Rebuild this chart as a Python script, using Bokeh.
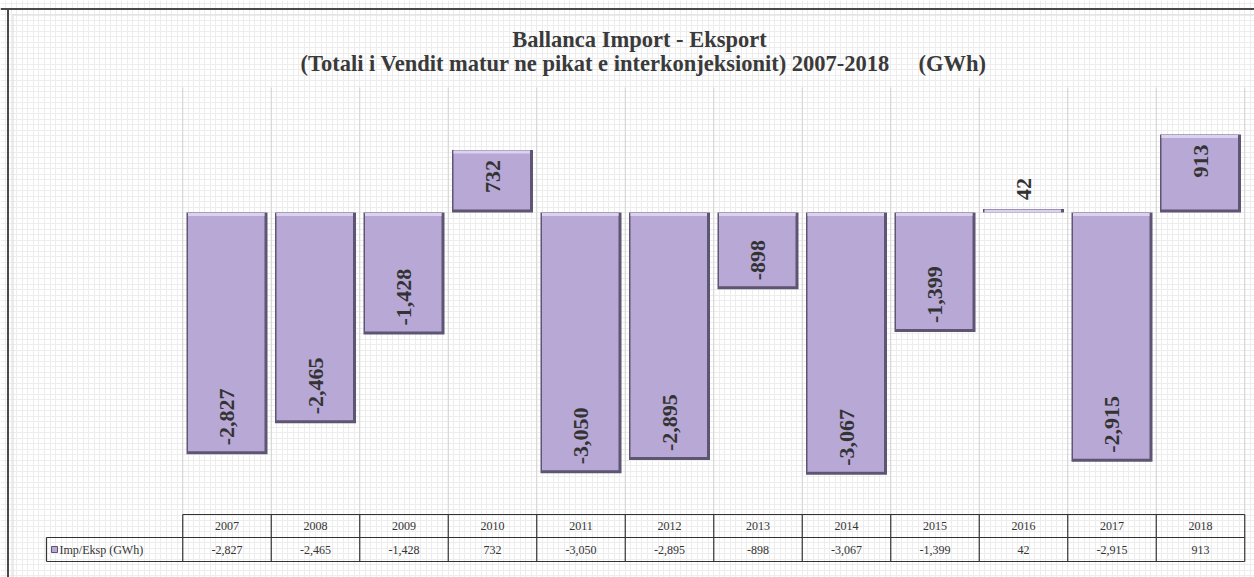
import numpy as np
from bokeh.plotting import figure
from bokeh.models import Range1d, Grid, SingleIntervalTicker, Label, ColumnDataSource
from bokeh.core.properties import value
from bokeh.embed import file_html
from bokeh.resources import INLINE

# ---------------- data ----------------
years = ["2007", "2008", "2009", "2010", "2011", "2012",
         "2013", "2014", "2015", "2016", "2017", "2018"]
imp_eksp = [-2827, -2465, -1428, 732, -3050, -2895,
            -898, -3067, -1399, 42, -2915, 913]
series_name = "Imp/Eksp (GWh)"
title_line1 = "Ballanca Import - Eksport"
title_line2 = "(Totali i Vendit matur ne pikat e interkonjeksionit) 2007-2018"
title_unit = "(GWh)"

# ---------------- layout (page pixels -> data) ----------------
W, H = 1254, 577
OFF = 0
PX0, PXS = 226.5, 88.5      # page x of first category centre, px per category
PY0, PYS = 212.0, 0.0855    # page y of zero line, px per GWh


def X(px):
    return (px - PX0) / PXS


def Y(py):
    return (PY0 - py) / PYS


DX = 1.0 / PXS
DY = 1.0 / PYS

p = figure(width=W, height=H, x_range=Range1d(X(OFF), X(OFF + W)),
           y_range=Range1d(Y(OFF + H), Y(OFF)),
           x_axis_location=None, y_axis_location=None,
           toolbar_location=None, output_backend="svg", min_border=0)
p.outline_line_color = None
p.grid.visible = False
p.background_fill_color = "white"
p.border_fill_color = "white"

# fine graph-paper grid
p.add_layout(Grid(dimension=0, ticker=SingleIntervalTicker(interval=1 / 16, num_minor_ticks=0),
                  grid_line_color="#ededed", grid_line_width=1))
p.add_layout(Grid(dimension=1, ticker=SingleIntervalTicker(interval=5.5 * DY, num_minor_ticks=0),
                  grid_line_color="#ededed", grid_line_width=1))

# frame lines
p.segment(x0=[X(7.5)], y0=[Y(8)], x1=[X(7.5)], y1=[Y(OFF + H)], line_color="#4a4a4a", line_width=2)
p.segment(x0=[X(0)], y0=[Y(8.5)], x1=[X(OFF + W)], y1=[Y(8.5)], line_color="#4a4a4a", line_width=2)
p.segment(x0=[X(12.5)], y0=[Y(14)], x1=[X(12.5)], y1=[Y(OFF + H)], line_color="#dadada", line_width=1)
p.segment(x0=[X(12)], y0=[Y(14.5)], x1=[X(OFF + W)], y1=[Y(14.5)], line_color="#dadada", line_width=1)

n = len(years)
idx = np.arange(n)
vals = np.array(imp_eksp, dtype=float)

# category separators
bx = np.arange(n + 1) - 0.5
p.segment(x0=bx, y0=[Y(87)] * (n + 1), x1=bx, y1=[Y(514)] * (n + 1),
          line_color="#d2d2d2", line_width=1)

# bars with bevel look
bw = 81 / PXS
left = idx - bw / 2
right = idx + bw / 2
top = np.maximum(vals, 0)
bottom = np.minimum(vals, 0)
src = ColumnDataSource(dict(
    left=left, right=right, top=top, bottom=bottom,
    mleft=left + 1.5 * DX, mright=right - 3 * DX, mtop=top - 0.5 * DY, mbottom=bottom + 3 * DY,
    htop=top - 0.5 * DY, hbottom=top - 3.5 * DY,
))
p.quad(left="left", right="right", top="top", bottom="bottom", source=src,
       fill_color="#5e5572", line_color=None)
p.quad(left="mleft", right="mright", top="mtop", bottom="mbottom", source=src,
       fill_color="#b7a8d6", line_color=None)
p.quad(left="mleft", right="mright", top="htop", bottom="hbottom", source=src,
       fill_color="#dcd2f0", line_color=None)

# data labels (rotated, inside end / outside for tiny bar)
lab_txt = [f"{int(v):,}" for v in vals]
lab_y, lab_align = [], []
for v in vals:
    if v < 0:
        lab_y.append(v + 9 * DY)
        lab_align.append("left")
    elif v * PYS > 50:
        lab_y.append(v - 10 * DY)
        lab_align.append("right")
    else:
        lab_y.append(v + 9 * DY)
        lab_align.append("left")
lsrc = ColumnDataSource(dict(x=idx, y=lab_y, t=lab_txt, a=lab_align))
p.text(x="x", y="y", text="t", text_align="a", source=lsrc, angle=np.pi / 2,
       text_baseline="middle", text_font=value("Liberation Serif"),
       text_font_style="bold", text_font_size="22px", text_color="#333333")

# titles
TF = "22.5px"
p.add_layout(Label(x=X(639), y=Y(39), text=title_line1, text_align="center",
                   text_baseline="middle", text_font="Liberation Serif",
                   text_font_style="bold", text_font_size=TF, text_color="#3a3a3a"))
p.add_layout(Label(x=X(300), y=Y(63), text=title_line2, text_align="left",
                   text_baseline="middle", text_font="Liberation Serif",
                   text_font_style="bold", text_font_size=TF, text_color="#3a3a3a"))
p.add_layout(Label(x=X(918), y=Y(63), text=title_unit, text_align="left",
                   text_baseline="middle", text_font="Liberation Serif",
                   text_font_style="bold", text_font_size=TF, text_color="#3a3a3a"))

# data table
t_top, t_mid, t_bot = Y(514), Y(537), Y(561)
lab_left = X(46)
xl, xr = -0.5, n - 0.5
p.segment(x0=[xl, lab_left, lab_left], y0=[t_top, t_mid, t_bot],
          x1=[xr, xr, xr], y1=[t_top, t_mid, t_bot], line_color="#333333", line_width=1.2)
p.segment(x0=bx, y0=[t_top] * (n + 1), x1=bx, y1=[t_bot] * (n + 1),
          line_color="#333333", line_width=1.2)
p.segment(x0=[lab_left], y0=[t_mid], x1=[lab_left], y1=[t_bot], line_color="#333333", line_width=1.2)
p.text(x=idx, y=[Y(525.5)] * n, text=years, text_align="center", text_baseline="middle",
       text_font=value("Liberation Serif"), text_font_size="12px", text_color="#333333")
p.text(x=idx, y=[Y(549)] * n, text=lab_txt, text_align="center", text_baseline="middle",
       text_font=value("Liberation Serif"), text_font_size="12px", text_color="#333333")
p.scatter(x=[X(54)], y=[Y(549)], marker="square", size=6, fill_color="#b7a8d6",
          line_color="#5e5572")
p.text(x=[X(59)], y=[Y(549)], text=[series_name], text_align="left", text_baseline="middle",
       text_font=value("Liberation Serif"), text_font_size="12px", text_color="#333333")

open("out.html", "w").write(file_html(p, INLINE))
